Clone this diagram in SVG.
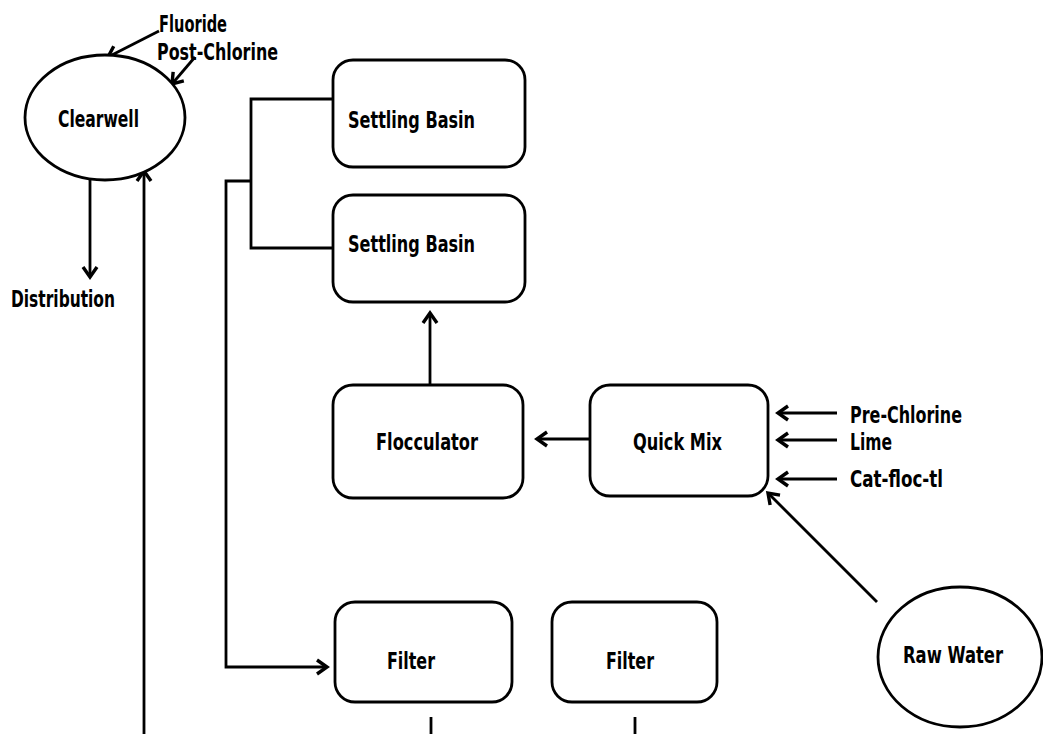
<svg xmlns="http://www.w3.org/2000/svg" width="1043" height="734" viewBox="0 0 1043 734">
<style>
.box{fill:#fff;stroke:#000;stroke-width:2.8}
.ln{fill:none;stroke:#000;stroke-width:2.8}
.t{font-family:"DejaVu Sans Condensed","DejaVu Sans","Liberation Sans",sans-serif;font-weight:bold;font-size:23px;fill:#000}
</style>
<defs>
<marker id="ah" viewBox="0 0 16 18" refX="13" refY="9" markerWidth="16" markerHeight="18" markerUnits="userSpaceOnUse" orient="auto">
<path d="M3,2 L13,9 L3,16" fill="none" stroke="#000" stroke-width="3.4" stroke-linejoin="miter"/>
</marker>
</defs>
<rect width="1043" height="734" fill="#fff"/>
<g id="connectors">
<line class="ln" x1="159" y1="31" x2="108" y2="57" marker-end="url(#ah)"/>
<line class="ln" x1="195" y1="57" x2="172" y2="84" marker-end="url(#ah)"/>
<line class="ln" x1="90" y1="180" x2="90" y2="277" marker-end="url(#ah)"/>
<line class="ln" x1="144" y1="734" x2="144" y2="171" marker-end="url(#ah)"/>
<path class="ln" d="M333,99 H251 V248 H333"/>
<path class="ln" d="M251,181 H226 V667 H327" marker-end="url(#ah)"/>
<line class="ln" x1="430" y1="385" x2="430" y2="313" marker-end="url(#ah)"/>
<line class="ln" x1="590" y1="439" x2="537" y2="439" marker-end="url(#ah)"/>
<line class="ln" x1="837" y1="413" x2="778" y2="413" marker-end="url(#ah)"/>
<line class="ln" x1="837" y1="440" x2="778" y2="440" marker-end="url(#ah)"/>
<line class="ln" x1="837" y1="479" x2="778" y2="479" marker-end="url(#ah)"/>
<line class="ln" x1="877" y1="602" x2="768" y2="493" marker-end="url(#ah)"/>
<line class="ln" x1="431" y1="717" x2="431" y2="734"/>
<line class="ln" x1="635" y1="717" x2="635" y2="734"/>
</g>
<g id="clearwell">
<ellipse class="box" cx="105" cy="117.5" rx="80" ry="62.5"/>
<text class="t" x="58" y="127" textLength="81" lengthAdjust="spacingAndGlyphs">Clearwell</text>
</g>
<g id="fluoride"><text class="t" x="159" y="32" textLength="68" lengthAdjust="spacingAndGlyphs">Fluoride</text></g>
<g id="post-chlorine"><text class="t" x="157" y="60" textLength="121" lengthAdjust="spacingAndGlyphs">Post-Chlorine</text></g>
<g id="distribution"><text class="t" x="11" y="307" textLength="104" lengthAdjust="spacingAndGlyphs">Distribution</text></g>
<g id="settling1">
<rect class="box" x="333" y="60" width="192" height="107" rx="20"/>
<text class="t" x="348" y="128" textLength="127" lengthAdjust="spacingAndGlyphs">Settling Basin</text>
</g>
<g id="settling2">
<rect class="box" x="333" y="195" width="192" height="107" rx="20"/>
<text class="t" x="348" y="252" textLength="127" lengthAdjust="spacingAndGlyphs">Settling Basin</text>
</g>
<g id="flocculator">
<rect class="box" x="333" y="385" width="190" height="113" rx="20"/>
<text class="t" x="376" y="450" textLength="102" lengthAdjust="spacingAndGlyphs">Flocculator</text>
</g>
<g id="quickmix">
<rect class="box" x="590" y="385" width="178" height="111" rx="20"/>
<text class="t" x="633" y="450" textLength="89" lengthAdjust="spacingAndGlyphs">Quick Mix</text>
</g>
<g id="pre-chlorine"><text class="t" x="850" y="423" textLength="112" lengthAdjust="spacingAndGlyphs">Pre-Chlorine</text></g>
<g id="lime"><text class="t" x="850" y="450" textLength="42" lengthAdjust="spacingAndGlyphs">Lime</text></g>
<g id="catfloc"><text class="t" x="850" y="487" textLength="93" lengthAdjust="spacingAndGlyphs">Cat-floc-tl</text></g>
<g id="rawwater">
<ellipse class="box" cx="960" cy="657" rx="82" ry="70"/>
<text class="t" x="903" y="663" textLength="100" lengthAdjust="spacingAndGlyphs">Raw Water</text>
</g>
<g id="filter1">
<rect class="box" x="335" y="602" width="177" height="100" rx="20"/>
<text class="t" x="387" y="669" textLength="48" lengthAdjust="spacingAndGlyphs">Filter</text>
</g>
<g id="filter2">
<rect class="box" x="552" y="602" width="165" height="100" rx="20"/>
<text class="t" x="606" y="669" textLength="48" lengthAdjust="spacingAndGlyphs">Filter</text>
</g>
</svg>
